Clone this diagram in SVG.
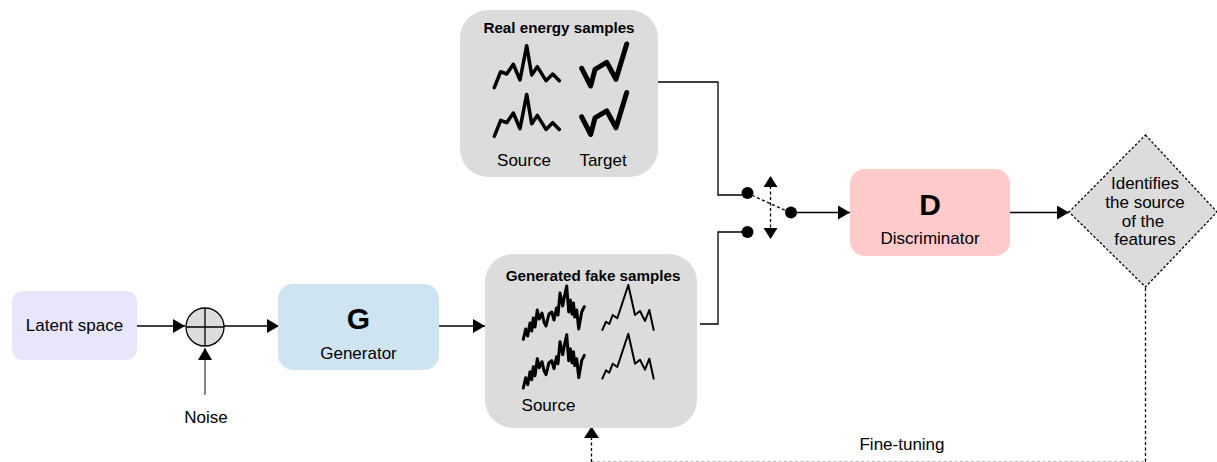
<svg xmlns="http://www.w3.org/2000/svg" width="1217" height="462" viewBox="0 0 1217 462">
<defs>
<marker id="tri" markerUnits="userSpaceOnUse" markerWidth="12" markerHeight="14" refX="12" refY="7" orient="auto"><path d="M0,0 L12,7 L0,14 Z" fill="#000"/></marker>
<polyline id="realS" points="494.3,87.7 500.7,71.7 506.7,74 513.3,64.3 520,80 526.7,45.7 531.7,75 537.3,66.7 546,80.7 552.7,74 559.3,80.7"/>
<polyline id="realT" points="581.7,68.3 590.7,86 595,69.3 606.7,62.3 616,79.3 626.7,44"/>
<polyline id="fakeS" points="523.3,339.3 525.700,329 527.700,336 530,323 531.700,331 533.300,318 535,327 537.300,310 539.300,319 542,313 544,322 546,326 549,314 551.700,312 554,320 556.500,308 558,315 560,293 562.700,306 564.500,296 566.700,286 568.700,312 570.300,300 572,314 573.500,303 574.700,317 576.700,310 578.700,329 581.700,312 584.300,306.700"/>
<polyline id="fakeT" points="602.300,330 606,321.700 609.300,324 612.700,315 617.300,318.300 628.300,285 635,315 640,311 645,321 649.300,310 653.700,330"/>
</defs>
<style>
text{font-family:"Liberation Sans",Arial,sans-serif;fill:#000}
.lb{font-size:17px;text-anchor:middle}
.tt{font-size:15.200px;font-weight:bold;text-anchor:middle}
.big{font-size:30px;font-weight:bold;text-anchor:middle}
.box{fill:#dcdcdc}
.ln{fill:none;stroke:#000;stroke-width:1.300}
.ar{marker-end:url(#tri)}
.dash{fill:none;stroke:#000;stroke-width:1.300;stroke-dasharray:3 2.500}
.pale{fill:none;stroke:#bbb;stroke-width:1;stroke-dasharray:3 2.500}
.sp{fill:none;stroke:#000;stroke-linejoin:round;stroke-linecap:round}
</style>
<g id="connectors">
<path class="ln ar" d="M137,326 H185"/>
<path class="ln ar" d="M224,326 H279"/>
<path class="ln ar" style="stroke:#666;stroke-width:1.600" d="M205,395 V348"/>
<path class="ln ar" d="M438,326 H485"/>
<path class="ln" d="M658,82 H718 V195 H747"/>
<path class="ln" d="M700,324 H718 V232 H747"/>
<path class="dash" d="M747,193 L791,213"/>
<path class="dash" d="M770.500,186 V230"/>
<path d="M770.500,176 L777.500,187 H763.500 Z M770.500,239 L763.500,228 H777.500 Z" fill="#000"/>
<circle cx="747.500" cy="193" r="6" fill="#000"/>
<circle cx="747.500" cy="232" r="6" fill="#000"/>
<circle cx="791" cy="212.500" r="6" fill="#000"/>
<path class="ln ar" d="M791,212.500 H850"/>
<path class="ln ar" d="M1010,212.500 H1069"/>
<path class="dash" d="M1145.500,288 V462"/>
<path class="pale" d="M591.500,461.500 H1145"/>
<path class="dash" d="M591.500,462 V437"/>
<path d="M591.500,426.500 L599,438 H584 Z" fill="#000"/>
</g>
<g id="latent"><rect x="12" y="291" width="125" height="69" rx="11" fill="#e8e6fb"/><text class="lb" x="74.500" y="331">Latent space</text></g>
<g id="sum"><circle cx="205" cy="327" r="19" fill="#dcdcdc" stroke="#000" stroke-width="1.300"/><path class="ln" d="M186,327 H224 M205,308 V346"/></g>
<g id="noise"><text class="lb" x="206" y="423">Noise</text></g>
<g id="generator"><rect x="278" y="284" width="161" height="86" rx="15" fill="#cfe4f3"/><text class="big" x="358.500" y="329">G</text><text class="lb" x="358.500" y="359">Generator</text></g>
<g id="real"><rect class="box" x="460" y="10" width="198" height="167" rx="28"/><text class="tt" x="559" y="33">Real energy samples</text>
<use href="#realS" class="sp" stroke-width="3.500"/><use href="#realS" class="sp" stroke-width="3.500" y="48.700"/>
<use href="#realT" class="sp" stroke-width="5"/><use href="#realT" class="sp" stroke-width="5" y="48.500"/>
<text class="lb" x="524" y="166">Source</text><text class="lb" x="603" y="166">Target</text></g>
<g id="fake"><rect class="box" x="485" y="254" width="212" height="174" rx="28"/><text class="tt" x="593" y="281">Generated fake samples</text>
<use href="#fakeS" class="sp" stroke-width="3"/><use href="#fakeS" class="sp" stroke-width="3" y="48.700"/>
<use href="#fakeT" class="sp" stroke-width="2"/><use href="#fakeT" class="sp" stroke-width="2" y="48.700"/>
<text class="lb" x="548.500" y="411">Source</text></g>
<g id="discriminator"><rect x="850" y="169" width="160" height="87" rx="15" fill="#ffcaca"/><text class="big" x="930" y="215">D</text><text class="lb" x="930" y="244">Discriminator</text></g>
<g id="decision"><polygon points="1145.500,135 1217,212 1145.500,287 1069,212" fill="#dcdcdc" stroke="#000" stroke-width="1.300" stroke-dasharray="2.500 2"/>
<text class="lb" x="1145" y="189">Identifies</text><text class="lb" x="1145" y="208">the source</text><text class="lb" x="1143" y="227">of the</text><text class="lb" x="1145" y="245">features</text></g>
<g id="finetuning"><text class="lb" x="902" y="450">Fine-tuning</text></g>
</svg>
